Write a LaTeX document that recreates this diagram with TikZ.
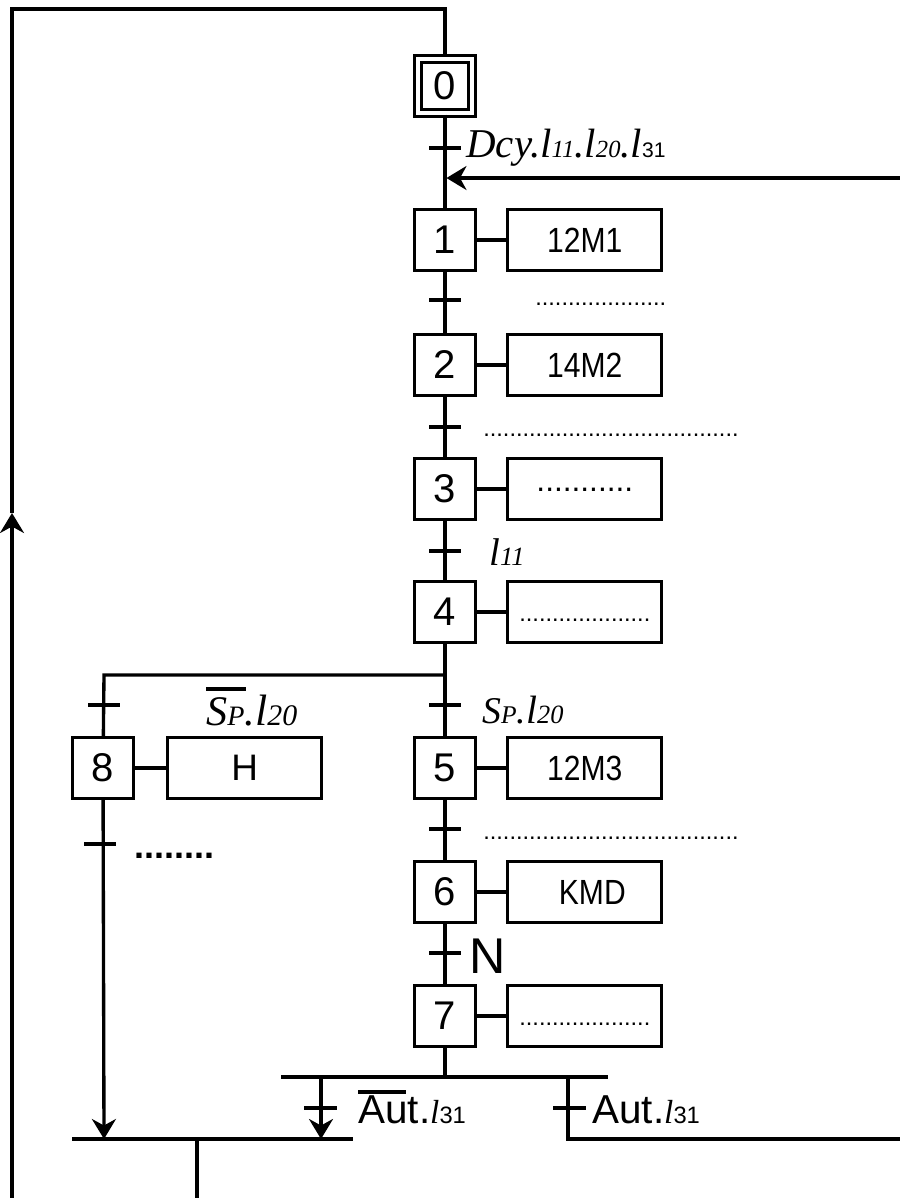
\documentclass[tikz,border=0pt]{standalone}
\usepackage{fontspec}
\setmainfont{Liberation Sans}
\newfontfamily\tnr{Liberation Serif}
\newfontfamily\actfont{Liberation Sans}[FakeStretch=0.86]
\usetikzlibrary{arrows.meta, positioning, calc}
\newcommand{\fsz}[1]{\fontsize{#1}{#1}\selectfont}
\newcommand{\barre}[3]{\setbox0=\hbox{#3}\rlap{\raisebox{#1}{\rule{#2}{1.9pt}}}\box0}
\tikzset{
  etape/.style={rectangle, draw, line width=1.9pt, minimum width=1.22cm,
    minimum height=1.22cm, inner sep=0pt, font=\fsz{22.8pt}},
  etapeinit/.style={etape, double, double distance=0.08cm,
    minimum width=1.08cm, minimum height=1.08cm},
  action/.style={rectangle, draw, line width=1.9pt, minimum width=3.08cm,
    minimum height=1.22cm, inner sep=0pt, font=\actfont\fsz{19.9pt}},
  actpts/.style={action, text height=#1, text depth=0pt, font=\fsz{13.4pt}},
  recept/.style={rectangle, fill, minimum width=0.66cm, minimum height=1.9pt,
    inner sep=0pt},
  txt/.style={anchor=base west, inner sep=0pt},
  pts/.style={anchor=base west, inner sep=0pt, font=\fsz{13.4pt}},
  lien/.style={line width=1.9pt},
  fleche/.style={lien, -{Stealth[length=0.4cm, width=0.48cm, inset=0.13cm]}}
}

\begin{document}
\begin{tikzpicture}[x=0.02cm, y=-0.02cm]
  \useasboundingbox (0,0) rectangle (900,1198);

  % Steps
  \node[etapeinit] (e0) at (445,86) {0};
  \node[etape] (e1) at (445,240) {1};
  \node[etape] (e2) at (445,365) {2};
  \node[etape] (e3) at (445,489) {3};
  \node[etape] (e4) at (445,612) {4};
  \node[etape] (e5) at (445,768) {5};
  \node[etape] (e6) at (445,892) {6};
  \node[etape] (e7) at (445,1016) {7};
  \node[etape] (e8) at (103,768) {8};

  % Actions
  \node[action, right=0.58cm of e1] (a1) {12M1};
  \node[action, right=0.58cm of e2] (a2) {14M2};
  \node[actpts=0.1cm, font=\fsz{18pt}, right=0.58cm of e3] (a3) {...........};
  \node[actpts=0.38cm, right=0.58cm of e4] (a4) {....................};
  \node[action, right=0.58cm of e5] (a5) {12M3};
  \node[action, right=0.58cm of e6] (a6) {\hspace{0.3cm}KMD};
  \node[actpts=0.38cm, right=0.58cm of e7] (a7) {....................};
  \node[action, font=\fsz{21pt}, right=0.62cm of e8] (a8) {H};
  \foreach \e/\a in {e1/a1,e2/a2,e3/a3,e4/a4,e5/a5,e6/a6,e7/a7,e8/a8}
    \draw[lien] (\e) -- (\a);

  % Main line
  \foreach \a/\b in {e0/e1,e1/e2,e2/e3,e3/e4,e4/e5,e5/e6,e6/e7}
    \draw[lien] (\a) -- (\b);

  % Loop back to step 0
  \coordinate (basG) at (12,1198);
  \coordinate (retour) at (12,513);
  \coordinate (hautG) at (12,9);
  \coordinate (hautD) at (445,9);
  \draw[fleche] (basG) -- (retour);
  \draw[lien] (retour) -- (hautG) -- (hautD) -- (e0);
  \coordinate (repriseD) at (900,178);
  \coordinate (reprise) at (446.5,178);
  \draw[fleche] (repriseD) -- (reprise);

  % OR divergence after step 4
  \coordinate (divG) at (104,675);
  \coordinate (divD) at (445,675);
  \draw[lien] (divD) -- (divG) -- (e8);

  % OR divergence after step 7
  \coordinate (convH) at (445,1077);
  \coordinate (convHG) at (281,1077);
  \coordinate (convHD) at (608,1077);
  \draw[lien] (e7) -- (convH);
  \draw[lien] (convHG) -- (convHD);
  \coordinate (brG) at (321,1077);
  \coordinate (brGb) at (321,1139);
  \draw[fleche] (brG) -- (brGb);
  \coordinate (brD) at (568,1077);
  \coordinate (brDb) at (568,1139);
  \coordinate (sortieD) at (900,1139);
  \draw[lien] (brD) -- (brDb) -- (sortieD);

  % Bottom junction
  \coordinate (convBG) at (72,1139);
  \coordinate (convBD) at (353,1139);
  \draw[lien] (convBG) -- (convBD);
  \coordinate (e8b) at (104,1139);
  \draw[fleche] (e8) -- (e8b);
  \coordinate (bas) at (197,1139);
  \coordinate (basB) at (197,1198);
  \draw[lien] (bas) -- (basB);

  % Transitions
  \node[recept] (t01) at (445,148) {};
  \node[recept] (t12) at (445,300) {};
  \node[recept] (t23) at (445,427) {};
  \node[recept] (t34) at (445,551) {};
  \node[recept] (t45) at (445,705) {};
  \node[recept] (t48) at (104,705) {};
  \node[recept] (t56) at (445,829) {};
  \node[recept] (t67) at (445,953) {};
  \node[recept] (t8) at (100,844) {};
  \node[recept] (t7g) at (320.5,1108) {};
  \node[recept] (t7d) at (569,1108) {};

  % Receptivities
  \node[txt] (r01) at (466,157) {{\tnr\itshape\fsz{23.3}Dcy.l{\fsz{14}11}.l{\fsz{14}20}.l}{\fsz{12}31}};
  \node[pts] (r12) at (535,305) {....................};
  \node[pts] (r23) at (483,436) {.......................................};
  \node[txt] (r34) at (489,565) {{\tnr\itshape\fsz{22}l{\fsz{15}11}}};
  \node[txt] (r45) at (482,723) {{\tnr\itshape\fsz{21.5}S{\fsz{14.5}P}.\fsz{22.5}l{\fsz{15}20}}};
  \node[txt] (r48) at (206,725) {{\tnr\itshape\fsz{24}\barre{0.69cm}{0.8cm}{S}{\fsz{16}P}.\fsz{25}l{\fsz{17}20}}};
  \node[pts] (r56) at (483,839) {.......................................};
  \node[txt, font=\fsz{28.6}] (r67) at (469,973) {N};
  \node[pts, font=\bfseries\fsz{20.5}] (r8) at (134,858) {........};
  \node[txt] (r7g) at (358,1123) {{\fsz{23}\barre{0.59cm}{0.96cm}{Au}t.}{\tnr\itshape\fsz{19}l}{\fsz{13.5}31}};
  \node[txt] (r7d) at (592,1123) {{\fsz{23}Aut.}{\tnr\itshape\fsz{19}l}{\fsz{13.5}31}};
\end{tikzpicture}
\end{document}
